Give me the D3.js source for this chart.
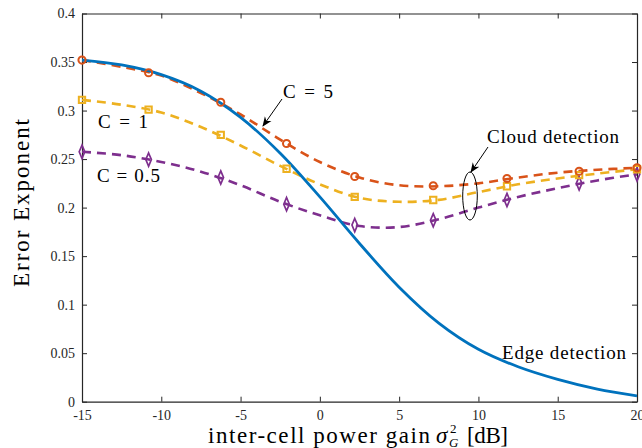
<!DOCTYPE html>
<html><head><meta charset="utf-8">
<script src="https://cdn.jsdelivr.net/npm/d3@7"></script>
<style>body{margin:0;background:#fff;} svg{display:block;}</style>
</head><body>
<svg id="chart" width="642" height="448"></svg>
<script>
// ---- data ----
const lineX = [-15,-12.5,-10,-7.5,-5,-2.5,0,2.5,5,7.5,10,12.5,15,17.5,20];
const edgeY = [0.352,0.347,0.337,0.320,0.293,0.256,0.211,0.163,0.118,0.081,0.054,0.036,0.023,0.013,0.006];
const c5Y   = [0.352,0.345,0.336,0.318,0.296,0.270,0.247,0.231,0.223,0.222,0.225,0.231,0.236,0.239,0.241];
const c1Y   = [0.311,0.306,0.298,0.283,0.264,0.243,0.224,0.210,0.206,0.208,0.216,0.224,0.230,0.235,0.2395];
const c05Y  = [0.2575,0.254,0.247,0.237,0.223,0.206,0.192,0.181,0.180,0.188,0.200,0.211,0.220,0.228,0.2343];
const markX   = [-15,-10.8,-6.25,-2.1,2.2,7.15,11.8,16.35,20];
const c5Mark  = [0.352,0.339,0.3085,0.266,0.232,0.2225,0.230,0.2375,0.241];
const c1Mark  = [0.311,0.301,0.275,0.240,0.211,0.2078,0.222,0.2335,0.2395];
const c05Mark = [0.2575,0.2495,0.231,0.2035,0.182,0.187,0.2078,0.225,0.2343];
const xTicks = [-15,-10,-5,0,5,10,15,20];
const yTicks = [0,0.05,0.1,0.15,0.2,0.25,0.3,0.35,0.4];

const svg = d3.select("#chart");
const L=82, R=637, T=13.5, B=401.7;
const x = d3.scaleLinear().domain([-15,20]).range([L,R]);
const y = d3.scaleLinear().domain([0,0.4]).range([B,T]);
const axisCol = "#262626";
const serif = "'Liberation Serif','Times New Roman',serif";

const defs = svg.append("defs");
defs.append("clipPath").attr("id","clip")
  .append("rect").attr("x",L).attr("y",T).attr("width",R-L).attr("height",B-T);
defs.append("marker").attr("id","arr").attr("viewBox","0 0 10 10").attr("refX",9).attr("refY",5)
  .attr("markerWidth",10).attr("markerHeight",10).attr("markerUnits","userSpaceOnUse").attr("orient","auto")
  .append("path").attr("d","M0,1 L10,5 L0,9 L3,5 Z").attr("fill","#000");

// axes
const gx = svg.append("g").attr("transform",`translate(0,${B})`)
  .call(d3.axisBottom(x).tickValues(xTicks).tickSizeInner(-5).tickSizeOuter(0).tickPadding(8).tickFormat(d=>d));
const gxt = svg.append("g").attr("transform",`translate(0,${T})`)
  .call(d3.axisTop(x).tickValues(xTicks).tickSizeInner(-5).tickSizeOuter(0).tickFormat(""));
const gy = svg.append("g").attr("transform",`translate(${L},0)`)
  .call(d3.axisLeft(y).tickValues(yTicks).tickSizeInner(-5).tickSizeOuter(0).tickPadding(7).tickFormat(d=>String(+d.toFixed(2))));
const gyr = svg.append("g").attr("transform",`translate(${R},0)`)
  .call(d3.axisRight(y).tickValues(yTicks).tickSizeInner(-5).tickSizeOuter(0).tickFormat(""));
[gx,gxt,gy,gyr].forEach(g=>{
  g.select(".domain").attr("stroke",axisCol).attr("stroke-width",1.2);
  g.selectAll(".tick line").attr("stroke",axisCol).attr("stroke-width",1);
  g.selectAll("text").attr("fill",axisCol).attr("font-family",serif).attr("font-size",14);
});

// lines
const line = d3.line().x((d,i)=>x(lineX[i])).y(d=>y(d)).curve(d3.curveCatmullRom.alpha(0.5));
const plot = svg.append("g").attr("clip-path","url(#clip)");
const series = [
  {v:c05Y, m:c05Mark, col:"#7E2F8E", sym:d3.symbolDiamond, size:42},
  {v:c1Y,  m:c1Mark,  col:"#EDB120", sym:d3.symbolSquare,  size:40},
  {v:c5Y,  m:c5Mark,  col:"#D95319", sym:d3.symbolCircle,  size:40},
];
series.forEach(s=>{
  plot.append("path").attr("d",line(s.v)).attr("fill","none").attr("stroke",s.col)
    .attr("stroke-width",2.6).attr("stroke-dasharray","9,6");
});
plot.append("path").attr("d",line(edgeY)).attr("fill","none").attr("stroke","#0072BD").attr("stroke-width",2.8);
series.forEach(s=>{
  svg.append("g").selectAll("path").data(s.m).join("path")
    .attr("transform",(d,i)=>`translate(${x(markX[i])},${y(d)})${s.sym===d3.symbolDiamond?" scale(0.8,1.1)":""}`)
    .attr("d",d3.symbol().type(s.sym).size(s.size)).attr("fill","none").attr("stroke",s.col).attr("stroke-width",2);
});

// annotations
const ann = svg.append("g").attr("font-family",serif).attr("fill","#000").attr("font-size",19);
const fit = (sel,len)=>sel.attr("textLength",len).attr("lengthAdjust","spacing");
fit(ann.append("text").attr("x",283).attr("y",98).text("C = 5"),50);
fit(ann.append("text").attr("x",98).attr("y",128).text("C = 1"),50);
fit(ann.append("text").attr("x",97).attr("y",182).text("C = 0.5"),63);
fit(ann.append("text").attr("x",487).attr("y",143).text("Cloud detection"),132);
fit(ann.append("text").attr("x",502).attr("y",359).text("Edge detection"),124);
svg.append("line").attr("x1",282).attr("y1",99).attr("x2",263).attr("y2",126)
  .attr("stroke","#000").attr("stroke-width",1).attr("marker-end","url(#arr)");
svg.append("line").attr("x1",488).attr("y1",147).attr("x2",471).attr("y2",172)
  .attr("stroke","#000").attr("stroke-width",1).attr("marker-end","url(#arr)");
svg.append("ellipse").attr("cx",470).attr("cy",196).attr("rx",7.3).attr("ry",24)
  .attr("fill","none").attr("stroke","#000").attr("stroke-width",1);

// axis labels
fit(svg.append("text").attr("transform","translate(29,287) rotate(-90)")
  .attr("font-family",serif).attr("font-size",23).attr("fill","#000").text("Error Exponent"),168);
const xg = svg.append("g").attr("font-family",serif).attr("fill","#000");
fit(xg.append("text").attr("x",208).attr("y",443).attr("font-size",23).text("inter-cell power gain"),222);
xg.append("text").attr("x",436).attr("y",443).attr("font-size",23).attr("font-style","italic").text("σ");
xg.append("text").attr("x",450).attr("y",432.5).attr("font-size",13).text("2");
xg.append("text").attr("x",449).attr("y",447).attr("font-size",13).attr("font-style","italic").text("G");
fit(xg.append("text").attr("x",467).attr("y",443).attr("font-size",23).text("[dB]"),41);
</script>
</body></html>
